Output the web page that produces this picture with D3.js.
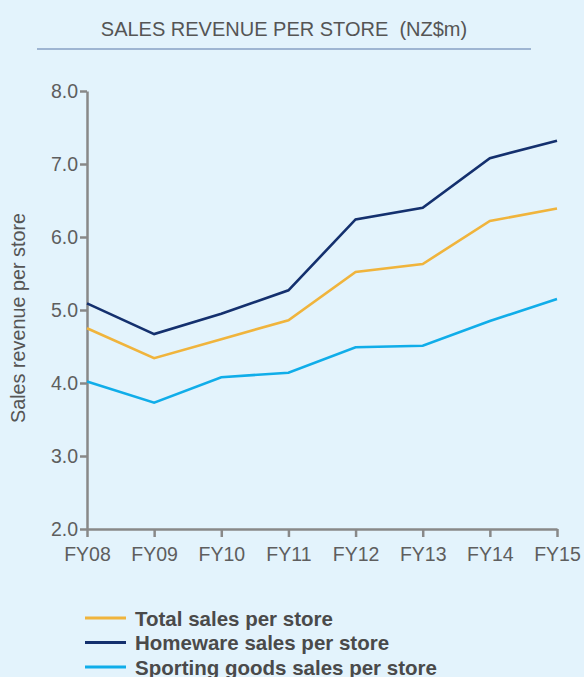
<!DOCTYPE html>
<html>
<head>
<meta charset="utf-8">
<script src="https://cdn.jsdelivr.net/npm/d3@7"></script>
<style>
  body { margin: 0; background: #e3f3fc; }
  svg { display: block; font-family: "Liberation Sans", Arial, sans-serif; }
</style>
</head>
<body>
<div id="canvas"></div>
<script>
const years = ["FY08", "FY09", "FY10", "FY11", "FY12", "FY13", "FY14", "FY15"];
const totalSales = [4.75, 4.34, 4.60, 4.86, 5.52, 5.63, 6.22, 6.39];
const homewareSales = [5.09, 4.67, 4.95, 5.27, 6.24, 6.40, 7.08, 7.32];
const sportingSales = [4.02, 3.73, 4.08, 4.14, 4.49, 4.51, 4.85, 5.15];
const yTicks = [2, 3, 4, 5, 6, 7, 8];

const series = [
  { name: "Total sales per store", values: totalSales, color: "#f0b43c" },
  { name: "Homeware sales per store", values: homewareSales, color: "#14306e" },
  { name: "Sporting goods sales per store", values: sportingSales, color: "#10ade9" }
];

const width = 584;
const height = 677;
const margin = { top: 91, left: 87, bottom: 148, right: 27 };
const iwidth = width - margin.left - margin.right;
const iheight = height - margin.top - margin.bottom;

const svg = d3.select("#canvas").append("svg")
  .attr("width", width)
  .attr("height", height);

// title + rule
svg.append("text")
  .attr("x", 284).attr("y", 36)
  .attr("text-anchor", "middle")
  .attr("font-size", 20)
  .attr("fill", "#555")
  .style("white-space", "pre")
  .text("SALES REVENUE PER STORE  (NZ$m)");

svg.append("line")
  .attr("x1", 37).attr("x2", 531)
  .attr("y1", 49).attr("y2", 49)
  .attr("stroke", "#5a78a8").attr("stroke-width", 1.2);

const g = svg.append("g").attr("transform", `translate(${margin.left},${margin.top})`);

const x = d3.scalePoint().domain(years).range([0, iwidth]);
const y = d3.scaleLinear().domain([2, 8]).range([iheight, 0]);

const line = d3.line()
  .x((d, i) => x(years[i]))
  .y(d => y(d));

// axes
const yAxis = g.append("g")
  .call(d3.axisLeft(y).tickValues(yTicks).tickFormat(d3.format(".1f")).tickSize(7).tickPadding(2).tickSizeOuter(0));

const xAxis = g.append("g")
  .attr("transform", `translate(0,${iheight})`)
  .call(d3.axisBottom(x).tickSize(8).tickPadding(10).tickSizeOuter(0));

[yAxis, xAxis].forEach(a => {
  a.select(".domain").attr("stroke", "#888").attr("stroke-width", 2.5);
  a.selectAll(".tick line").attr("stroke", "#888").attr("stroke-width", 2.5);
  a.selectAll(".tick text").attr("fill", "#5e5e5e").attr("font-size", 19.5).attr("font-family", "Liberation Sans, Arial, sans-serif");
});

// y label
svg.append("text")
  .attr("transform", "translate(25,318) rotate(-90)")
  .attr("text-anchor", "middle")
  .attr("font-size", 19.8)
  .attr("fill", "#555")
  .text("Sales revenue per store");

// lines
g.selectAll(".series").data(series).enter().append("path")
  .attr("class", "series")
  .attr("fill", "none")
  .attr("stroke", d => d.color)
  .attr("stroke-width", 2.6)
  .attr("stroke-linejoin", "miter")
  .attr("d", d => line(d.values));

// legend
const legend = svg.append("g").attr("transform", "translate(85,618)");
const items = legend.selectAll("g").data(series).enter().append("g")
  .attr("transform", (d, i) => `translate(0,${i * 24.5})`);

items.append("line")
  .attr("x1", 0).attr("x2", 41)
  .attr("stroke", d => d.color)
  .attr("stroke-width", 3);

items.append("text")
  .attr("x", 50).attr("y", 7.5)
  .attr("font-size", 20.5)
  .attr("font-weight", "bold")
  .attr("fill", "#4a4a4a")
  .text(d => d.name);
</script>
</body>
</html>
